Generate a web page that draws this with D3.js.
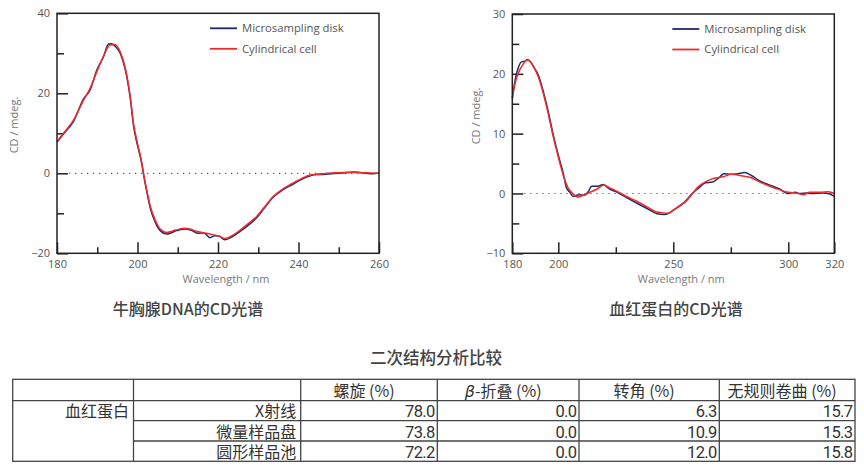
<!DOCTYPE html>
<html>
<head>
<meta charset="utf-8">
<script src="https://cdn.jsdelivr.net/npm/d3@7"></script>
<style>
  html, body { margin: 0; padding: 0; background: #fff; }
  svg { display: block; }
  .tick text { font-family: "Open Sans", sans-serif; font-size: 11px; fill: #555; }
</style>
</head>
<body>
<svg id="chart" width="864" height="469"></svg>
<script>
// ---- DNA spectrum (left) ----
const dnaCylWl = [180, 181.6, 184.1, 186.6, 188.2, 189.9, 191.5, 193.2, 194.4, 195.7, 196.9, 198.2, 199, 200, 201.1, 201.5, 202.3, 203.2, 204.4, 205.7, 207.3, 208.1, 209.5, 211.8, 215.1, 218, 220.2, 221.7, 223.5, 225.5, 227.5, 229.6, 231.5, 233.7, 236, 238.5, 240.4, 242.9, 246.2, 251, 254, 258.5, 260];
const dnaCylVal = [7.9, 10, 13.3, 18.3, 21.2, 25.4, 29.2, 32.1, 32.2, 30.4, 26.6, 19.2, 12.5, 7.5, 2.5, 0, -4.2, -8.3, -11.7, -14, -14.8, -14.6, -14.2, -13.75, -14.6, -15.2, -15.7, -16.3, -15.6, -14.2, -12.6, -10.8, -8.5, -5.8, -4.0, -2.5, -1.5, -0.4, -0.1, 0.2, 0.2, 0.05, 0];
const dnaDiskWl = [180, 181.6, 184.1, 186.6, 188.2, 189.9, 191.5, 192.8, 193.6, 194.4, 195.7, 196.9, 198.2, 199, 200, 201.1, 201.5, 202.3, 203.2, 204.4, 205.7, 207.3, 208.1, 209.5, 211.8, 213.5, 215.1, 216.5, 218, 219.2, 220.2, 221.7, 223.5, 225.5, 227.5, 229.6, 231.5, 233.7, 236, 238.5, 240.4, 242.9, 244.5, 246.2, 248, 251, 254, 256, 258.5, 260];
const dnaDiskVal = [7.8, 9.8, 13.0, 18.6, 20.8, 25.8, 29.0, 32.3, 32.4, 31.8, 30.0, 26.2, 18.8, 12.0, 7.0, 2.2, -0.3, -4.6, -8.8, -12.2, -14.4, -15.2, -15.0, -14.4, -13.9, -14.3, -15.0, -14.9, -16.1, -15.6, -15.7, -16.6, -15.9, -14.5, -13.0, -11.1, -8.7, -6.0, -4.2, -2.8, -1.7, -0.6, -0.3, -0.3, -0.1, 0.1, 0.3, 0.1, -0.1, 0.1];

// ---- Hemoglobin spectrum (right) ----
const hbCylWl = [180, 181.2, 182.6, 184.5, 186.5, 188.8, 191.3, 193.5, 195.6, 197.8, 200, 202.2, 204.3, 206.5, 208.7, 210.9, 213.8, 216.7, 219.9, 222.5, 225.4, 229.7, 234.1, 238.4, 242, 244.9, 247.8, 250, 252.9, 255.8, 257.9, 260.8, 263.8, 267.4, 271.7, 275.4, 279, 283.3, 287.7, 292, 296.4, 300, 303.6, 306.5, 309.4, 313.8, 317.4, 320];
const hbCylVal = [15.9, 18.4, 20.1, 21.5, 22.3, 21.5, 19.5, 16.7, 13.4, 9.5, 6.1, 3, 0.9, -0.1, -0.6, -0.3, 0.2, 0.7, 1.4, 0.9, 0.4, -0.5, -1.3, -2.2, -3, -3.2, -3.3, -2.8, -2, -1.2, -0.2, 1.1, 1.9, 2.5, 2.8, 3.2, 3.0, 2.7, 1.9, 1.2, 0.6, 0.2, 0.05, -0.2, 0.2, 0.2, 0.3, 0];
const hbDiskWl = [180, 181.5, 182.5, 184, 185.5, 186.5, 188, 189.5, 191.3, 193.5, 195.6, 197.8, 200, 202.2, 203.5, 205, 206.5, 208, 209.5, 211, 213, 214.5, 217, 219.5, 222, 225, 229.7, 235, 240, 243, 246, 248, 250, 255, 258, 261, 264, 267, 270, 272, 275, 278, 281, 284, 288, 292, 296, 300, 303, 305, 308, 310, 315, 318, 320];
const hbDiskVal = [15.9, 19.5, 20.9, 22.0, 22.1, 22.4, 22.0, 21.0, 19.8, 17.0, 13.7, 9.8, 6.4, 3.3, 1.0, 0.2, -0.5, -0.3, -0.2, -0.3, 0.3, 1.2, 1.2, 1.5, 0.8, 0.3, -0.7, -1.8, -2.8, -3.4, -3.5, -3.3, -2.8, -1.4, -0.1, 0.9, 1.8, 1.9, 2.7, 3.3, 3.2, 3.3, 3.5, 3.0, 2.0, 1.4, 0.8, 0.0, 0.2, 0.0, 0.1, 0.0, 0.1, -0.1, -0.5];

// ---- ticks ----
const dnaXMajor = [180, 200, 220, 240, 260];
const dnaXMinor = [190, 210, 230, 250];
const dnaYMajor = [-20, 0, 20, 40];
const dnaYMinor = [-10, 10, 30];
const hbXMajor = [180, 200, 250, 300, 320];
const hbXMinor = [225, 275];
const hbYMajor = [-10, 0, 10, 20, 30];
const hbYMinor = [-5, 5, 15, 25];

const seriesNames = ['Microsampling disk', 'Cylindrical cell'];
const chartTitles = ['牛胸腺DNA的CD光谱', '血红蛋白的CD光谱'];

// ---- table ----
const tableTitle = '二次结构分析比较';
const tableHeaders = ['螺旋 (%)', 'β-折叠 (%)', '转角 (%)', '无规则卷曲 (%)'];
const tableGroup = '血红蛋白';
const tableMethods = ['X射线', '微量样品盘', '圆形样品池'];
const helix = [78.0, 73.8, 72.2];
const sheet = [0.0, 0.0, 0.0];
const turn = [6.3, 10.9, 12.0];
const coil = [15.7, 15.3, 15.8];

const colors = {disk: '#1e2b68', cyl: '#f2292b'};
const svg = d3.select('#chart');

function zip(wl, val) {
  return wl.map((w, i) => ({w, v: val[i]}));
}

function drawChart(cfg) {
  const g = svg.append('g');
  const x = d3.scaleLinear().domain(cfg.xDomain).range([cfg.left, cfg.right]);
  const y = d3.scaleLinear().domain(cfg.yDomain).range([cfg.bottom, cfg.top]);

  // zero line
  g.append('line')
    .attr('x1', x(cfg.xDomain[0]) + 12).attr('x2', cfg.right)
    .attr('y1', y(0)).attr('y2', y(0))
    .attr('stroke', '#666').attr('stroke-width', 1.2)
    .attr('stroke-dasharray', '1.3,4.7');

  const addAxis = (axis, tr) => {
    const a = g.append('g').attr('transform', tr).call(axis);
    a.select('.domain').remove();
    a.selectAll('.tick line').attr('stroke', '#222').attr('stroke-width', 1.5);
    return a;
  };
  addAxis(d3.axisBottom(x).tickValues(cfg.xMajor).tickSize(-11).tickPadding(7).tickFormat(d3.format('d')),
    `translate(0,${cfg.bottom})`);
  addAxis(d3.axisBottom(x).tickValues(cfg.xMinor).tickSize(-6).tickFormat(''),
    `translate(0,${cfg.bottom})`);
  addAxis(d3.axisLeft(y).tickValues(cfg.yMajor).tickSize(-11).tickPadding(7).tickFormat(d3.format('d')),
    `translate(${cfg.left},0)`);
  addAxis(d3.axisLeft(y).tickValues(cfg.yMinor).tickSize(-7).tickFormat(''),
    `translate(${cfg.left},0)`);

  const line = d3.line().x(d => x(d.w)).y(d => y(d.v)).curve(d3.curveMonotoneX);
  g.append('path').datum(cfg.disk).attr('d', line)
    .attr('fill', 'none').attr('stroke', colors.disk).attr('stroke-width', 1.5);
  g.append('path').datum(cfg.cyl).attr('d', line)
    .attr('fill', 'none').attr('stroke', colors.cyl).attr('stroke-width', 1.5);

  // frame
  g.append('rect')
    .attr('x', cfg.left).attr('y', cfg.top)
    .attr('width', cfg.right - cfg.left).attr('height', cfg.bottom - cfg.top)
    .attr('fill', 'none').attr('stroke', '#222').attr('stroke-width', 1.5);

  // legend
  const leg = g.append('g').attr('transform', `translate(${cfg.legX},${cfg.top + 15})`);
  [colors.disk, colors.cyl].forEach((c, i) => {
    leg.append('line').attr('x1', 0).attr('x2', 27)
      .attr('y1', i * 20.5).attr('y2', i * 20.5)
      .attr('stroke', c).attr('stroke-width', 1.8);
    leg.append('text').attr('x', 32).attr('y', i * 20.5).attr('dy', '0.35em')
      .attr('font-family', '"Open Sans", sans-serif').attr('font-size', 11.3)
      .attr('fill', '#555').text(seriesNames[i]);
  });

  // axis titles
  g.append('text')
    .attr('transform', `translate(${cfg.yLabelX},${cfg.yLabelY}) rotate(-90)`)
    .attr('text-anchor', 'middle').attr('dy', '0.35em')
    .attr('font-family', '"Open Sans", sans-serif').attr('font-size', 11)
    .attr('fill', '#777').text('CD / mdeg.');
  g.append('text')
    .attr('x', (cfg.left + cfg.right) / 2 + 8).attr('y', cfg.bottom + 30)
    .attr('text-anchor', 'middle')
    .attr('font-family', '"Open Sans", sans-serif').attr('font-size', 11)
    .attr('fill', '#777').text('Wavelength / nm');

  // chart title
  g.append('text')
    .attr('x', cfg.titleX).attr('y', 315)
    .attr('text-anchor', 'middle')
    .attr('font-family', '"Noto Sans CJK SC", sans-serif').attr('font-size', 16)
    .attr('font-weight', 500).attr('fill', '#444').text(cfg.title);
}

drawChart({
  left: 57, right: 379, top: 13.3, bottom: 253.3,
  xDomain: [180, 260], yDomain: [-20, 40],
  xMajor: dnaXMajor, xMinor: dnaXMinor, yMajor: dnaYMajor, yMinor: dnaYMinor,
  disk: zip(dnaDiskWl, dnaDiskVal), cyl: zip(dnaCylWl, dnaCylVal),
  legX: 210, yLabelX: 14, yLabelY: 125, titleX: 188, title: chartTitles[0]
});
drawChart({
  left: 512.3, right: 834.3, top: 14, bottom: 253.3,
  xDomain: [180, 320], yDomain: [-10, 30],
  xMajor: hbXMajor, xMinor: hbXMinor, yMajor: hbYMajor, yMinor: hbYMinor,
  disk: zip(hbDiskWl, hbDiskVal), cyl: zip(hbCylWl, hbCylVal),
  legX: 672.3, yLabelX: 476, yLabelY: 116, titleX: 676, title: chartTitles[1]
});

// ---- table ----
const cols = [12.7, 133.5, 300.7, 437.3, 579, 719.3, 855];
const rows = [379.3, 400.7, 420.7, 441, 461.3];
const tg = svg.append('g');
const cjk = '"Noto Sans CJK SC", sans-serif';

tg.append('text').attr('x', 436).attr('y', 364).attr('text-anchor', 'middle')
  .attr('font-family', cjk).attr('font-size', 16.5).attr('font-weight', 500)
  .attr('fill', '#444').text(tableTitle);

const stroke = s => s.attr('stroke', '#444').attr('stroke-width', 1.3);
// outer frame
stroke(tg.append('rect').attr('x', cols[0]).attr('y', rows[0])
  .attr('width', cols[6] - cols[0]).attr('height', rows[4] - rows[0]).attr('fill', 'none'));
// header separator
stroke(tg.append('line').attr('x1', cols[0]).attr('x2', cols[6]).attr('y1', rows[1]).attr('y2', rows[1]));
// data row separators (group column spans rows)
[rows[2], rows[3]].forEach(r => stroke(tg.append('line')
  .attr('x1', cols[1]).attr('x2', cols[6]).attr('y1', r).attr('y2', r)));
cols.slice(1, 6).forEach(c => stroke(tg.append('line')
  .attr('x1', c).attr('x2', c).attr('y1', rows[0]).attr('y2', rows[4])));

// headers
tableHeaders.forEach((h, i) => {
  const t = tg.append('text')
    .attr('x', (cols[i + 2] + cols[i + 3]) / 2 - 5).attr('y', rows[1] - 3.5)
    .attr('text-anchor', 'middle').attr('font-family', cjk)
    .attr('font-size', 16).attr('fill', '#333');
  if (h.startsWith('β')) {
    t.append('tspan').attr('font-style', 'italic').attr('font-family', '"DejaVu Sans", sans-serif')
      .attr('font-size', 16).text('β');
    t.append('tspan').text(h.slice(1));
  } else {
    t.text(h);
  }
});

tg.append('text').attr('x', cols[1] - 4.5).attr('y', rows[2] - 3.5)
  .attr('text-anchor', 'end').attr('font-family', cjk).attr('font-size', 16)
  .attr('fill', '#333').text(tableGroup);

tableMethods.forEach((m, i) => {
  tg.append('text').attr('x', cols[2] - 4.5).attr('y', rows[i + 2] - 3.5)
    .attr('text-anchor', 'end').attr('font-family', cjk).attr('font-size', 16)
    .attr('fill', '#333').text(m);
});

[helix, sheet, turn, coil].forEach((series, j) => {
  series.forEach((v, i) => {
    tg.append('text')
      .attr('x', cols[j + 3] - 2.5).attr('y', rows[i + 2] - 3.5)
      .attr('text-anchor', 'end').attr('font-family', 'Roboto, sans-serif').attr('font-size', 16.5)
      .attr('letter-spacing', '-0.6px')
      .attr('fill', '#333').text(v.toFixed(1));
  });
});
</script>
</body>
</html>
